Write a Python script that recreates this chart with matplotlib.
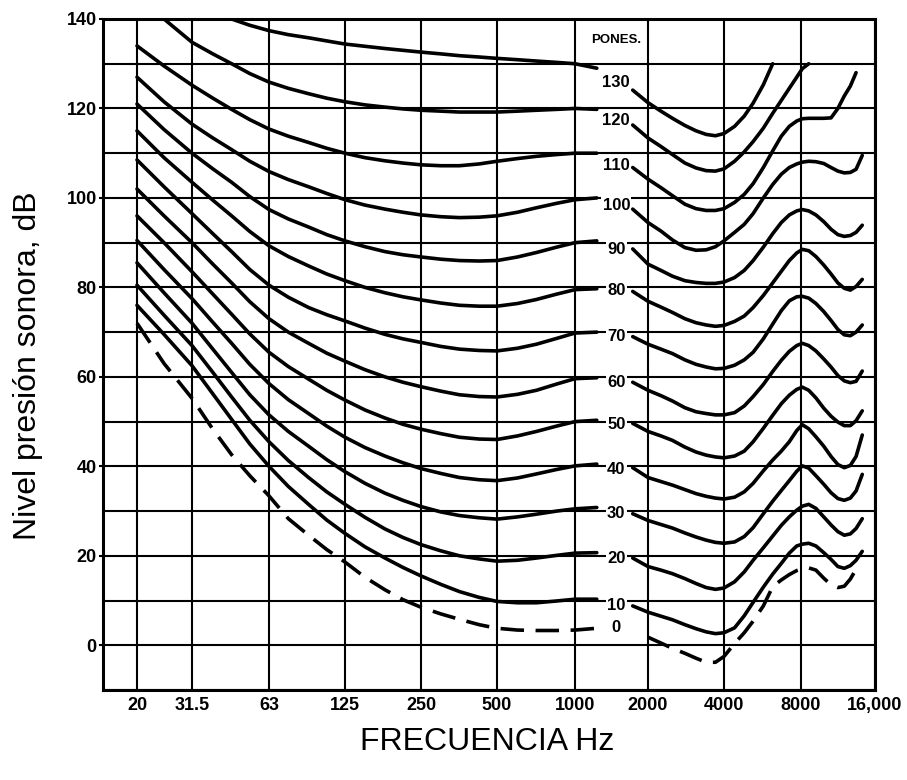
import numpy as np
import matplotlib
matplotlib.use("Agg")
import matplotlib.pyplot as plt

nan = np.nan

# ---------------- data ----------------
PHONS = [130, 120, 110, 100, 90, 80, 70, 60, 50, 40, 30, 20, 10, 0]

# left part of each contour (below ~1.2 kHz), dB SPL
F_LEFT = [20, 25, 31.5, 38, 45, 53, 63, 75, 90, 106, 125, 150, 180, 212,
          250, 300, 355, 425, 500, 600, 710, 850, 1000, 1230]
LEFT_DB = [
    [nan, nan, nan, nan, 140.0, 138.6, 137.4, 136.5, 135.8, 135.1, 134.4, 133.9, 133.4, 133.0,
     132.6, 132.2, 131.8, 131.5, 131.2, 130.9, 130.6, 130.3, 130.0, 129.0],
    [nan, 140.0, 134.8, 132.2, 130.0, 127.8, 125.9, 124.5, 123.3, 122.3, 121.5, 120.8, 120.3, 119.9,
     119.6, 119.4, 119.2, 119.2, 119.2, 119.4, 119.6, 119.8, 120.0, 119.8],
    [134.0, 129.5, 125.2, 122.3, 119.8, 117.5, 115.4, 113.8, 112.4, 111.1, 110.0, 109.0, 108.3, 107.8,
     107.4, 107.2, 107.2, 107.6, 108.2, 108.8, 109.3, 109.7, 110.0, 110.0],
    [127.0, 121.5, 116.5, 113.4, 110.8, 108.2, 105.9, 104.1, 102.5, 101.0, 99.6, 98.4, 97.5, 96.8,
     96.2, 95.8, 95.6, 95.7, 96.0, 96.8, 97.8, 98.8, 99.6, 100.0],
    [121.0, 115.3, 110.0, 106.5, 103.5, 100.3, 97.4, 95.3, 93.5, 91.8, 90.4, 89.1, 88.0, 87.3,
     86.8, 86.3, 86.0, 85.9, 86.0, 86.8, 87.8, 89.0, 90.0, 90.4],
    [115.0, 109.0, 103.5, 99.5, 96.0, 92.5, 89.3, 86.9, 84.8, 83.0, 81.5, 80.0, 78.8, 77.9,
     77.2, 76.5, 76.0, 75.8, 75.8, 76.4, 77.3, 78.5, 79.5, 79.7],
    [108.5, 102.5, 96.5, 92.0, 88.0, 84.0, 80.5, 77.8, 75.5, 73.9, 72.5, 70.9, 69.5, 68.5,
     67.7, 66.8, 66.2, 65.9, 65.8, 66.4, 67.3, 68.6, 69.8, 70.0],
    [102.0, 96.0, 90.0, 85.2, 81.0, 76.8, 73.0, 70.0, 67.5, 65.3, 63.5, 61.6, 60.0, 58.8,
     57.8, 56.8, 56.0, 55.6, 55.5, 56.1, 57.0, 58.4, 59.6, 59.8],
    [96.0, 90.0, 83.5, 78.5, 74.0, 69.6, 65.5, 62.3, 59.5, 57.0, 54.8, 52.6, 50.8, 49.4,
     48.3, 47.3, 46.5, 46.1, 46.0, 46.8, 47.8, 49.0, 50.0, 50.3],
    [90.5, 84.0, 77.5, 72.2, 67.5, 62.8, 58.5, 54.9, 51.8, 49.0, 46.5, 44.2, 42.3, 40.8,
     39.5, 38.4, 37.5, 37.0, 36.8, 37.4, 38.3, 39.3, 40.1, 40.5],
    [85.5, 78.8, 72.0, 66.2, 61.0, 56.0, 51.5, 47.8, 44.5, 41.5, 38.8, 36.2, 34.0, 32.4,
     31.0, 29.8, 29.0, 28.5, 28.2, 28.7, 29.3, 30.0, 30.5, 30.8],
    [80.5, 73.8, 67.0, 61.0, 55.5, 50.3, 45.5, 41.3, 37.5, 34.3, 31.5, 28.6, 26.0, 24.1,
     22.5, 21.1, 20.0, 19.3, 18.8, 19.0, 19.5, 20.1, 20.6, 20.7],
    [76.0, 69.5, 62.5, 56.2, 50.5, 45.0, 40.0, 35.5, 31.5, 28.0, 25.0, 22.0, 19.5, 17.4,
     15.5, 13.6, 12.0, 10.7, 9.8, 9.5, 9.5, 9.9, 10.3, 10.3],
    [72.0, 63.0, 55.2, 48.3, 42.6, 37.9, 33.4, 28.3, 24.6, 21.4, 18.6, 15.2, 12.4, 10.2,
     8.5, 7.0, 5.8, 4.6, 3.8, 3.4, 3.3, 3.3, 3.4, 3.8],
]

# right part of each contour (above ~1.7 kHz), dB SPL
F_RIGHT = [1730, 2000, 2250, 2500, 2800, 3100, 3400, 3700, 4000, 4400, 4800, 5200, 5700,
           6200, 6700, 7200, 7700, 8100, 8600, 9200, 9900, 10600, 11300, 12000, 12700,
           13400, 14200]
RIGHT_DB = [
    [124.1, 121.3, 119.4, 117.8, 116.2, 115.0, 114.2, 113.9, 114.4, 116.0, 118.3, 121.2, 125.3,
     130.0, nan, nan, nan, nan, nan, nan, nan, nan, nan, nan, nan, nan, nan],
    [116.3, 113.4, 111.5, 109.7, 107.8, 106.7, 106.1, 106.0, 106.5, 108.2, 110.3, 112.6, 115.6,
     118.9, 121.8, 124.5, 127.0, 128.9, 130.0, nan, nan, nan, nan, nan, nan, nan, nan],
    [106.8, 104.2, 102.3, 100.5, 98.6, 97.6, 97.2, 97.2, 97.6, 99.0, 100.8, 103.2, 106.8,
     110.5, 113.8, 116.0, 117.2, 117.7, 117.8, 117.8, 117.8, 117.9, 120.0, 122.8, 125.0,
     128.0, nan],
    [97.5, 94.5, 92.6, 90.6, 88.9, 88.3, 88.4, 89.1, 90.4, 92.3, 94.1, 96.5, 100.0,
     103.0, 105.3, 106.8, 107.6, 108.0, 108.2, 108.1, 107.7, 106.8, 106.0, 105.6, 105.7,
     106.4, 109.5],
    [88.6, 85.2, 83.8, 82.5, 81.5, 81.1, 80.9, 80.9, 81.2, 82.2, 83.8, 86.0, 89.0,
     92.0, 94.5, 96.2, 97.1, 97.4, 97.1, 96.2, 94.7, 93.0, 91.8, 91.4, 91.6, 92.3, 93.9],
    [79.1, 76.9, 75.6, 74.4, 73.0, 72.1, 71.6, 71.3, 71.5, 72.4, 73.6, 75.5, 78.2,
     81.0, 83.6, 86.0, 87.7, 88.5, 88.2, 86.9, 85.0, 83.0, 81.0, 79.8, 79.4, 80.2, 81.8],
    [69.0, 67.3, 66.2, 65.2, 63.8, 62.8, 62.2, 61.8, 61.9, 62.6, 63.8, 65.5, 68.5,
     71.8, 74.8, 77.0, 77.9, 78.0, 77.6, 76.4, 74.6, 72.6, 70.6, 69.4, 69.2, 70.0, 71.6],
    [58.8, 57.0, 55.8, 54.6, 53.1, 52.2, 51.8, 51.5, 51.5, 52.0, 53.5, 55.6, 58.3,
     61.2, 63.7, 65.7, 67.0, 67.5, 67.0, 65.8, 64.0, 62.2, 60.3, 59.1, 58.7, 59.0, 61.3],
    [49.6, 47.8, 46.8, 45.8, 44.3, 43.2, 42.5, 42.1, 41.9, 42.3, 43.4, 45.5, 48.5,
     51.4, 54.0, 55.9, 57.2, 57.7, 57.0, 55.3, 53.0, 51.2, 49.9, 49.1, 49.1, 50.2, 52.4],
    [39.7, 37.5, 36.6, 35.8, 34.8, 33.9, 33.3, 32.9, 32.7, 33.1, 34.3, 36.2, 39.0,
     41.4, 43.4, 45.5, 48.0, 49.3, 48.4, 46.6, 44.5, 42.2, 40.4, 39.7, 40.2, 42.2, 47.0],
    [29.4, 27.9, 27.0, 26.2, 25.1, 24.2, 23.5, 23.0, 22.8, 23.1, 24.3, 26.3, 29.4,
     32.2, 34.6, 36.8, 38.9, 40.1, 39.6, 37.9, 36.0, 34.1, 32.8, 32.4, 32.9, 34.5, 38.2],
    [19.5, 17.6, 16.8, 16.0, 14.9, 13.8, 12.9, 12.5, 12.8, 14.2, 16.4, 19.0, 21.8,
     24.4, 26.8, 28.7, 30.2, 31.1, 31.5, 30.6, 28.7, 26.9, 25.4, 24.6, 24.9, 26.1, 28.3],
    [8.8, 7.4, 6.5, 5.7, 4.6, 3.7, 3.0, 2.6, 2.8, 3.9, 6.6, 9.6, 13.0,
     15.9, 18.3, 20.6, 22.2, 22.6, 22.8, 22.2, 20.7, 19.2, 17.6, 17.2, 17.8, 19.0, 21.0],
    [nan, 1.8, 0.5, -0.7, -1.8, -2.9, -3.8, -3.8, -2.5, 0.4, 2.8, 5.4, 8.8,
     13.1, 14.6, 15.8, 16.7, 17.1, 17.3, 16.8, 15.0, 13.5, 12.9, 13.2, 14.8, 17.0, nan],
]

# curve labels (placed in the gap between the two parts)
LABEL_F = 1480
LABEL_DB = [125.7, 117.3, 107.3, 98.4, 88.4, 79.4, 69.1, 58.8, 49.4, 39.4, 29.4, 19.4, 8.8, 3.9]
HEADER = "PONES."
HEADER_DB = 135.3

X_TICKS = [20, 31.5, 63, 125, 250, 500, 1000, 2000, 4000, 8000, 16000]
X_TICK_LABELS = ["20", "31.5", "63", "125", "250", "500", "1000", "2000",
                 "4000", "8000", "16,000"]
Y_TICKS = [0, 20, 40, 60, 80, 100, 120, 140]
Y_MINOR = [-10, 10, 30, 50, 70, 90, 110, 130]

X_LABEL = "FRECUENCIA Hz"
Y_LABEL = "Nivel presión sonora, dB"

# ---------------- frequency axis of the printed chart ----------------
# the printed octave grid is slightly non-uniform; relative positions of its grid lines
AXIS_POS = np.array([137, 192, 269, 345, 421, 497, 575, 648, 724, 801, 875], float)
_LA = np.log2(np.array(X_TICKS, float))


def _fwd(f):
    f = np.asarray(f, float)
    lf = np.log2(np.clip(f, 1e-9, None))
    out = np.interp(lf, _LA, AXIS_POS)
    s0 = (AXIS_POS[1] - AXIS_POS[0]) / (_LA[1] - _LA[0])
    s1 = (AXIS_POS[-1] - AXIS_POS[-2]) / (_LA[-1] - _LA[-2])
    out = np.where(lf < _LA[0], AXIS_POS[0] + (lf - _LA[0]) * s0, out)
    out = np.where(lf > _LA[-1], AXIS_POS[-1] + (lf - _LA[-1]) * s1, out)
    return out


def _inv(p):
    p = np.asarray(p, float)
    out = np.interp(p, AXIS_POS, _LA)
    s0 = (_LA[1] - _LA[0]) / (AXIS_POS[1] - AXIS_POS[0])
    s1 = (_LA[-1] - _LA[-2]) / (AXIS_POS[-1] - AXIS_POS[-2])
    out = np.where(p < AXIS_POS[0], _LA[0] + (p - AXIS_POS[0]) * s0, out)
    out = np.where(p > AXIS_POS[-1], _LA[-1] + (p - AXIS_POS[-1]) * s1, out)
    return 2.0 ** out


# ---------------- figure ----------------
W, H = 907, 780
fig = plt.figure(figsize=(W / 100, H / 100), dpi=100)
fig.patch.set_facecolor("white")
ax = fig.add_axes([103 / W, 1 - 690 / H, 772 / W, 671 / H])
ax.set_xscale("function", functions=(_fwd, _inv))
ax.set_xlim(float(_inv(103.0)), 16000)
ax.set_ylim(-10, 140)

TICKFONT = dict(family="Liberation Sans", weight="bold", size=13)

ax.set_xticks(X_TICKS)
ax.set_xticklabels(X_TICK_LABELS, fontdict=TICKFONT)
ax.xaxis.set_minor_locator(matplotlib.ticker.NullLocator())
ax.set_yticks(Y_TICKS)
ax.set_yticklabels([str(v) for v in Y_TICKS], fontdict=TICKFONT)
ax.set_yticks(Y_MINOR, minor=True)
ax.tick_params(axis="x", which="both", length=0, pad=5)
ax.tick_params(axis="y", which="major", length=3, width=1.5, pad=1.5, direction="out")
ax.tick_params(axis="y", which="minor", length=0)

ax.set_axisbelow(True)
ax.grid(True, axis="x", which="major", color="black", lw=1.5)
ax.grid(True, axis="y", which="both", color="black", lw=1.5)
for sp in ax.spines.values():
    sp.set_linewidth(2.2)
    sp.set_color("black")

for i, ph in enumerate(PHONS):
    style = dict(color="black", lw=2.6, solid_capstyle="round",
                 solid_joinstyle="round", zorder=3)
    if ph == 0:
        style.update(ls=(0, (6.5, 3.2)), dash_capstyle="butt")
    ax.plot(F_LEFT, LEFT_DB[i], **style)
    ax.plot(F_RIGHT, RIGHT_DB[i], **style)
    ax.text(LABEL_F, LABEL_DB[i], str(ph), ha="center", va="center",
            family="Liberation Sans", weight="bold", size=12, zorder=4,
            bbox=dict(boxstyle="square,pad=0.08", fc="white", ec="none"))

ax.text(LABEL_F, HEADER_DB, HEADER, ha="center", va="center",
        family="Liberation Sans", weight="bold", size=9.5, zorder=4)

fig.text(487 / W, 1 - 742 / H, X_LABEL, ha="center", va="center",
         family="Liberation Sans", size=23)
fig.text(28 / W, 1 - 366 / H, Y_LABEL, ha="center", va="center", rotation=90,
         family="Liberation Sans", size=23)

fig.savefig("out.png", dpi=100, facecolor="white")
